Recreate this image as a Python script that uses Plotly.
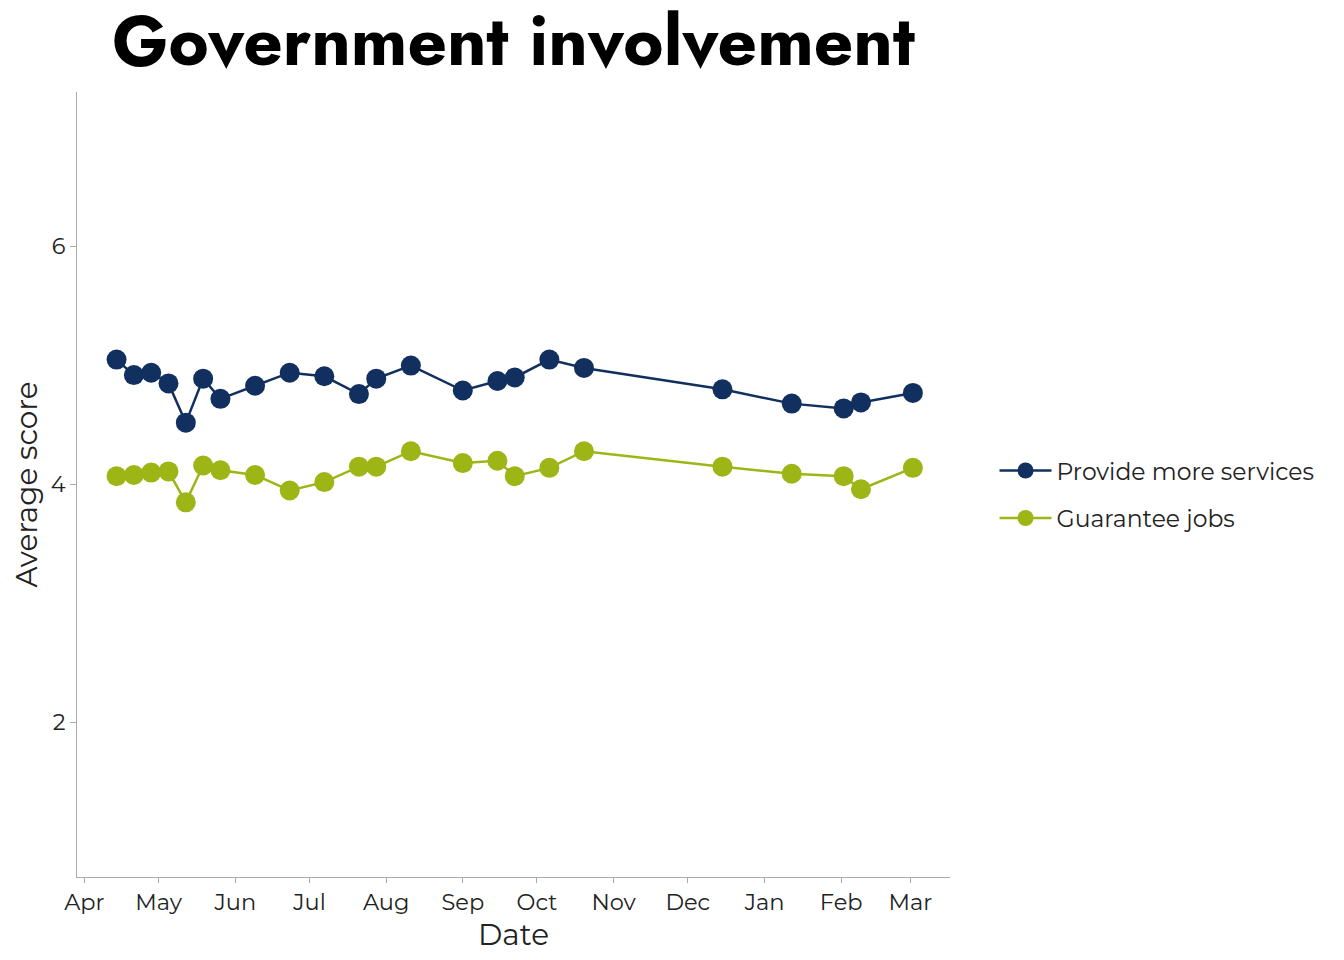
import plotly.graph_objects as go

dates = ["2020-04-14", "2020-04-21", "2020-04-28", "2020-05-05", "2020-05-12", "2020-05-19",
         "2020-05-26", "2020-06-09", "2020-06-23", "2020-07-07", "2020-07-21", "2020-07-28",
         "2020-08-11", "2020-09-01", "2020-09-15", "2020-09-22", "2020-10-06", "2020-10-20",
         "2020-12-15", "2021-01-12", "2021-02-02", "2021-02-09", "2021-03-02"]

provide_services = [5.05, 4.92, 4.94, 4.85, 4.52, 4.89, 4.72, 4.83, 4.94, 4.91, 4.76, 4.89,
                    5.00, 4.79, 4.87, 4.90, 5.05, 4.98, 4.80, 4.68, 4.64, 4.69, 4.77]

guarantee_jobs = [4.07, 4.08, 4.10, 4.11, 3.85, 4.16, 4.12, 4.08, 3.95, 4.02, 4.15, 4.15,
                  4.28, 4.18, 4.20, 4.07, 4.14, 4.28, 4.15, 4.09, 4.07, 3.96, 4.14]

series_names = ["Provide more services", "Guarantee jobs"]
colors = ["#12305f", "#9db515"]

font_family = "Montserrat, Noto Sans, sans-serif"

fig = go.Figure()
for i, (name, vals, col) in enumerate(zip(series_names, [provide_services, guarantee_jobs], colors)):
    fig.add_trace(go.Scatter(
        x=dates, y=vals, name=name, mode="lines+markers",
        legendgroup=f"g{i}",
        line=dict(color=col, width=2.5),
        marker=dict(color=col, size=20),
    ))

fig.update_layout(
    width=1344, height=960,
    paper_bgcolor="white", plot_bgcolor="white",
    margin=dict(l=69, r=402, t=84, b=91),
    font=dict(family=font_family, size=22, color="#222222"),
    title=dict(text="<b>Government involvement</b>", x=(69 + 942) / 2 / 1344, xanchor="center",
               y=1 - 33 / 960, yanchor="middle",
               font=dict(family="Jost, Futura, Noto Sans, sans-serif", size=69, color="black")),
    legend=dict(x=1.051, y=0.487, xanchor="left", yanchor="middle",
                font=dict(size=23.5, color="#222222"), itemsizing="trace",
                itemwidth=52, tracegroupgap=14),
    showlegend=True,
)

fig.update_xaxes(
    title=dict(text="Date", font=dict(size=29.5), standoff=0),
    type="date", range=["2020-03-29", "2021-03-17"],
    tick0="2020-04-01", dtick="M1", tickformat="%b",
    showline=True, linecolor="#aaaaaa", linewidth=1,
    ticks="outside", ticklen=5, tickcolor="#aaaaaa",
    showgrid=False, zeroline=False, automargin=False,
    tickfont=dict(size=22.5),
)
fig.update_yaxes(
    title=dict(text="Average score", font=dict(size=29.5), standoff=10),
    range=[0.7, 7.3], tickvals=[2, 4, 6],
    showline=True, linecolor="#aaaaaa", linewidth=1,
    ticks="outside", ticklen=6, tickcolor="#aaaaaa",
    showgrid=False, zeroline=False, automargin=False,
    tickfont=dict(size=22.5),
)

fig.write_html("out.html")
